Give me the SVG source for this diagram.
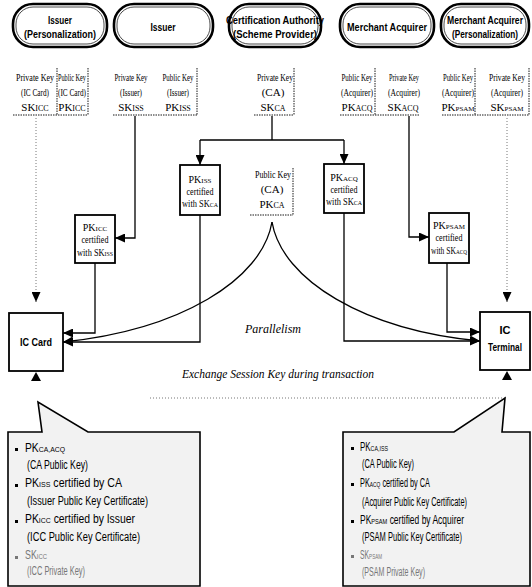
<svg xmlns="http://www.w3.org/2000/svg" width="532" height="587" viewBox="0 0 532 587">
<defs>
<marker id="ah" markerUnits="userSpaceOnUse" markerWidth="10" markerHeight="9" refX="10" refY="4.5" orient="auto"><path d="M0,0 L10,4.5 L0,9 Z" fill="#000"/></marker>
</defs>
<style>
.rb{fill:#fff;stroke:#000;stroke-width:2.6}
.rbi{fill:none;stroke:#000;stroke-width:0.7}
.t{font-family:"Liberation Sans",Arial,sans-serif;font-weight:bold;font-size:11px;text-anchor:middle}
.k{font-family:"Liberation Serif","Times New Roman",serif;font-size:11px;text-anchor:middle}
.b{font-family:"Liberation Serif","Times New Roman",serif;font-size:10px;text-anchor:middle}
.dash{fill:none;stroke:#000;stroke-width:0.9;stroke-dasharray:1.5 1}
.dot{fill:none;stroke:#666;stroke-width:0.9;stroke-dasharray:1 2}
.bx{fill:#fff;stroke:#000;stroke-width:1.8}
.ln{fill:none;stroke:#000;stroke-width:1.3}
.it{font-family:"Liberation Serif","Times New Roman",serif;font-style:italic;font-size:12px}
.c{font-family:"Liberation Sans",Arial,sans-serif;font-size:12px}
.co{fill:#f2f2f2;stroke:#000;stroke-width:1.6}
.fd{fill:#777}
.sb{font-size:8px}
.sb7{font-size:7px}
</style>

<g id="issuer-personalization">
<rect class="rb" x="13" y="4" width="94" height="43" rx="20"/>
<rect class="rbi" x="16" y="7" width="88" height="37" rx="17"/>
<text class="t" x="60" y="24" textLength="24" lengthAdjust="spacingAndGlyphs">Issuer</text>
<text class="t" x="60" y="38" textLength="72" lengthAdjust="spacingAndGlyphs">(Personalization)</text>
</g>
<g id="issuer">
<rect class="rb" x="114" y="4" width="99" height="43" rx="20"/>
<rect class="rbi" x="117" y="7" width="93" height="37" rx="17"/>
<text class="t" x="163" y="31" textLength="25" lengthAdjust="spacingAndGlyphs">Issuer</text>
</g>
<g id="ca">
<rect class="rb" x="229" y="4" width="92" height="43" rx="20"/>
<rect class="rbi" x="232" y="7" width="86" height="37" rx="17"/>
<text class="t" x="275" y="24" textLength="98" lengthAdjust="spacingAndGlyphs">Certification Authority</text>
<text class="t" x="275" y="38" textLength="84" lengthAdjust="spacingAndGlyphs">(Scheme Provider)</text>
</g>
<g id="merchant-acquirer">
<rect class="rb" x="340" y="4" width="94" height="43" rx="20"/>
<rect class="rbi" x="343" y="7" width="88" height="37" rx="17"/>
<text class="t" x="387" y="31" textLength="80" lengthAdjust="spacingAndGlyphs">Merchant Acquirer</text>
</g>
<g id="merchant-acquirer-personalization">
<rect class="rb" x="441" y="4" width="88" height="43" rx="20"/>
<rect class="rbi" x="444" y="7" width="82" height="37" rx="17"/>
<text class="t" x="485" y="24" textLength="76" lengthAdjust="spacingAndGlyphs">Merchant Acquirer</text>
<text class="t" x="485" y="38" textLength="66" lengthAdjust="spacingAndGlyphs">(Personalization)</text>
</g>

<g id="keys-icc">
<path class="dash" d="M13 115 H88 M57 68 V115 M88 68 V115"/>
<text class="k" x="35" y="81" textLength="38" lengthAdjust="spacingAndGlyphs">Private Key</text>
<text class="k" x="35" y="96" textLength="28" lengthAdjust="spacingAndGlyphs">(IC Card)</text>
<text class="k" x="35" y="111">SK<tspan class="sb">ICC</tspan></text>
<text class="k" x="72" y="81" textLength="28" lengthAdjust="spacingAndGlyphs">Public Key</text>
<text class="k" x="72" y="96" textLength="28" lengthAdjust="spacingAndGlyphs">(IC Card)</text>
<text class="k" x="72" y="111">PK<tspan class="sb">ICC</tspan></text>
</g>
<g id="keys-issuer">
<path class="dash" d="M113 115 H197 M197 68 V115"/>
<text class="k" x="131" y="81" textLength="33" lengthAdjust="spacingAndGlyphs">Private Key</text>
<text class="k" x="131" y="96" textLength="22" lengthAdjust="spacingAndGlyphs">(Issuer)</text>
<text class="k" x="131" y="111">SK<tspan class="sb">ISS</tspan></text>
<text class="k" x="178" y="81" textLength="31" lengthAdjust="spacingAndGlyphs">Public Key</text>
<text class="k" x="178" y="96" textLength="22" lengthAdjust="spacingAndGlyphs">(Issuer)</text>
<text class="k" x="178" y="111">PK<tspan class="sb">ISS</tspan></text>
</g>
<g id="keys-ca">
<path class="dash" d="M254 115 H294 M294 68 V115"/>
<text class="k" x="275" y="81" textLength="36" lengthAdjust="spacingAndGlyphs">Private Key</text>
<text class="k" x="273" y="96">(CA)</text>
<text class="k" x="273" y="111">SK<tspan class="sb">CA</tspan></text>
</g>
<g id="keys-acquirer">
<path class="dash" d="M340 115 H420 M375 68 V115"/>
<text class="k" x="357" y="81" textLength="31" lengthAdjust="spacingAndGlyphs">Public Key</text>
<text class="k" x="357" y="96" textLength="32" lengthAdjust="spacingAndGlyphs">(Acquirer)</text>
<text class="k" x="357" y="111">PK<tspan class="sb">ACQ</tspan></text>
<text class="k" x="404" y="81" textLength="30" lengthAdjust="spacingAndGlyphs">Private Key</text>
<text class="k" x="404" y="96" textLength="32" lengthAdjust="spacingAndGlyphs">(Acquirer)</text>
<text class="k" x="403" y="111">SK<tspan class="sb">ACQ</tspan></text>
</g>
<g id="keys-psam">
<path class="dash" d="M442 115 H529 M475 68 V115 M529 68 V115"/>
<text class="k" x="458" y="81" textLength="30" lengthAdjust="spacingAndGlyphs">Public Key</text>
<text class="k" x="458" y="96" textLength="32" lengthAdjust="spacingAndGlyphs">(Acquirer)</text>
<text class="k" x="458" y="111">PK<tspan class="sb7">PSAM</tspan></text>
<text class="k" x="507" y="81" textLength="36" lengthAdjust="spacingAndGlyphs">Private Key</text>
<text class="k" x="507" y="96" textLength="32" lengthAdjust="spacingAndGlyphs">(Acquirer)</text>
<text class="k" x="507" y="111">SK<tspan class="sb7">PSAM</tspan></text>
</g>

<g id="connectors">
<path class="dot" d="M36 118 V302" marker-end="url(#ah)"/>
<path class="dot" d="M507 118 V302" marker-end="url(#ah)"/>
<path class="ln" d="M135 116 V238 H115" marker-end="url(#ah)"/>
<path class="ln" d="M272 116 V140 M200 140 H344"/>
<path class="ln" d="M200 140 V165" marker-end="url(#ah)"/>
<path class="ln" d="M344 140 V164" marker-end="url(#ah)"/>
<path class="ln" d="M409 116 V237 H429" marker-end="url(#ah)"/>
<path class="ln" d="M95 263 V333 H63" marker-end="url(#ah)"/>
<path class="ln" d="M200 215 V342 H63" marker-end="url(#ah)"/>
<path class="ln" d="M272 222 C262 280 180 330 63 342" marker-end="url(#ah)"/>
<path class="ln" d="M447 263 V332 H480" marker-end="url(#ah)"/>
<path class="ln" d="M344 213 V341 H480" marker-end="url(#ah)"/>
<path class="ln" d="M272 222 C282 280 364 330 480 341" marker-end="url(#ah)"/>
<path d="M36 372 L31 381 L41 381 Z" fill="#000"/>
<path d="M507 371 L502 380 L512 380 Z" fill="#000"/>
<path class="dot" d="M150 398 H505" stroke="#aaa"/>
</g>

<g id="pk-ca">
<path class="dash" d="M250 215 H293 M293 168 V215"/>
<text class="k" x="273" y="178" textLength="36" lengthAdjust="spacingAndGlyphs">Public Key</text>
<text class="k" x="272" y="193">(CA)</text>
<text class="k" x="272" y="208">PK<tspan class="sb">CA</tspan></text>
</g>
<g id="pkiss-cert">
<rect class="bx" x="180" y="165" width="40" height="50"/>
<text class="b" x="200" y="183">PK<tspan class="sb7">ISS</tspan></text>
<text class="b" x="200" y="195" textLength="27" lengthAdjust="spacingAndGlyphs">certified</text>
<text class="b" x="200" y="207" textLength="36" lengthAdjust="spacingAndGlyphs">with SK<tspan class="sb7">CA</tspan></text>
</g>
<g id="pkacq-cert">
<rect class="bx" x="324" y="164" width="40" height="49"/>
<text class="b" x="344" y="181">PK<tspan class="sb7">ACQ</tspan></text>
<text class="b" x="344" y="193" textLength="27" lengthAdjust="spacingAndGlyphs">certified</text>
<text class="b" x="344" y="205" textLength="36" lengthAdjust="spacingAndGlyphs">with SK<tspan class="sb7">CA</tspan></text>
</g>
<g id="pkicc-cert">
<rect class="bx" x="75" y="215" width="40" height="48"/>
<text class="b" x="95" y="231">PK<tspan class="sb7">ICC</tspan></text>
<text class="b" x="95" y="243" textLength="27" lengthAdjust="spacingAndGlyphs">certified</text>
<text class="b" x="95" y="256" textLength="36" lengthAdjust="spacingAndGlyphs">with SK<tspan class="sb7">ISS</tspan></text>
</g>
<g id="pkpsam-cert">
<rect class="bx" x="429" y="213" width="40" height="50"/>
<text class="b" x="449" y="229">PK<tspan class="sb7">PSAM</tspan></text>
<text class="b" x="449" y="241" textLength="27" lengthAdjust="spacingAndGlyphs">certified</text>
<text class="b" x="449" y="254" textLength="36" lengthAdjust="spacingAndGlyphs">with SK<tspan class="sb7">ACQ</tspan></text>
</g>

<g id="ic-card">
<rect class="bx" x="9" y="313" width="54" height="58"/>
<text class="t" x="36" y="346" textLength="32" lengthAdjust="spacingAndGlyphs">IC Card</text>
</g>
<g id="ic-terminal">
<rect class="bx" x="480" y="312" width="50" height="58"/>
<text class="t" x="505" y="334">IC</text>
<text class="t" x="505" y="351" textLength="34" lengthAdjust="spacingAndGlyphs">Terminal</text>
</g>

<g id="labels">
<text class="it" x="273" y="333" text-anchor="middle">Parallelism</text>
<text class="it" x="182" y="378" textLength="192" lengthAdjust="spacingAndGlyphs">Exchange Session Key during transaction</text>
</g>

<g id="card-callout">
<path class="co" d="M8 432 H42 L38 402 L88 432 H200 V586 H8 Z"/>
<rect x="15" y="448" width="3" height="3"/>
<text class="c" x="25" y="452" textLength="40" lengthAdjust="spacingAndGlyphs">PK<tspan class="sb">CA,ACQ</tspan></text>
<text class="c" x="27" y="469" textLength="61" lengthAdjust="spacingAndGlyphs">(CA Public Key)</text>
<rect x="15" y="484" width="3" height="3"/>
<text class="c" x="25" y="487" textLength="97" lengthAdjust="spacingAndGlyphs">PK<tspan class="sb">ISS</tspan> certified by CA</text>
<text class="c" x="27" y="505" textLength="121" lengthAdjust="spacingAndGlyphs">(Issuer Public Key Certificate)</text>
<rect x="15" y="520" width="3" height="3"/>
<text class="c" x="25" y="523" textLength="110" lengthAdjust="spacingAndGlyphs">PK<tspan class="sb">ICC</tspan> certified by Issuer</text>
<text class="c" x="27" y="541" textLength="113" lengthAdjust="spacingAndGlyphs">(ICC Public Key Certificate)</text>
<rect x="15" y="556" width="3" height="3" fill="#777"/>
<text class="c fd" x="25" y="559" textLength="22" lengthAdjust="spacingAndGlyphs">SK<tspan class="sb">ICC</tspan></text>
<text class="c fd" x="27" y="575" textLength="58" lengthAdjust="spacingAndGlyphs">(ICC Private Key)</text>
</g>
<g id="terminal-callout">
<path class="co" d="M343 432 H454 L505 398 L502 432 H530 V586 H343 Z"/>
<rect x="351" y="447" width="3" height="3"/>
<text class="c" x="360" y="451" textLength="28" lengthAdjust="spacingAndGlyphs">PK<tspan class="sb">CA,ISS</tspan></text>
<text class="c" x="362" y="468" textLength="52" lengthAdjust="spacingAndGlyphs">(CA Public Key)</text>
<rect x="351" y="483" width="3" height="3"/>
<text class="c" x="360" y="487" textLength="70" lengthAdjust="spacingAndGlyphs">PK<tspan class="sb">ACQ</tspan> certified by CA</text>
<text class="c" x="362" y="506" textLength="105" lengthAdjust="spacingAndGlyphs">(Acquirer Public Key Certificate)</text>
<rect x="351" y="520" width="3" height="3"/>
<text class="c" x="360" y="524" textLength="104" lengthAdjust="spacingAndGlyphs">PK<tspan class="sb">PSAM</tspan> certified by Acquirer</text>
<text class="c" x="362" y="541" textLength="100" lengthAdjust="spacingAndGlyphs">(PSAM Public Key Certificate)</text>
<rect x="351" y="555" width="3" height="3" fill="#777"/>
<text class="c fd" x="360" y="559" textLength="22" lengthAdjust="spacingAndGlyphs">SK<tspan class="sb">PSAM</tspan></text>
<text class="c fd" x="362" y="576" textLength="63" lengthAdjust="spacingAndGlyphs">(PSAM Private Key)</text>
</g>
</svg>
